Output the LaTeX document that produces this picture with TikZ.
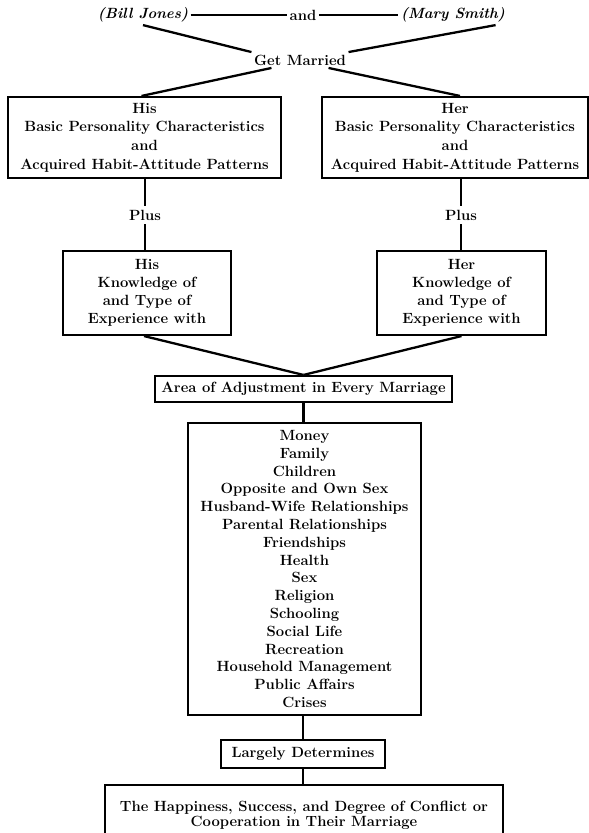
\documentclass[tikz,border=0pt]{standalone}
\usetikzlibrary{calc}
\begin{document}
\begin{tikzpicture}[x=1pt,y=-1pt,
  every node/.style={font=\fontsize{14.8}{17.8}\selectfont\bfseries, align=center, inner sep=0pt},
  box/.style={draw, line width=2.1pt},
  lbl/.style={inner sep=2.5pt},
  ln/.style={line width=2.3pt},
  ]
\useasboundingbox (0,0) rectangle (589,833);
\clip (0,0) rectangle (589,833);
\fill[white] (0,0) rectangle (589,833);

% top row
\node[lbl, font=\fontsize{14.8}{17.8}\selectfont\bfseries\itshape] (bill) at (143,15) {(Bill Jones)};
\node[lbl] (and) at (303,15) {and};
\node[lbl, font=\fontsize{14.8}{17.8}\selectfont\bfseries\itshape] (mary) at (453,15) {(Mary Smith)};
\node[lbl] (getm) at (300,60) {Get Married};

% personality boxes
\node[box, minimum width=273pt, minimum height=81pt, font=\fontsize{14.8}{18.6}\selectfont\bfseries] (hisbox) at (144.5,137.5)
  {His\\Basic Personality Characteristics\\and\\Acquired Habit-Attitude Patterns};
\node[box, minimum width=266pt, minimum height=81pt, font=\fontsize{14.8}{18.6}\selectfont\bfseries] (herbox) at (455,137.5)
  {Her\\Basic Personality Characteristics\\and\\Acquired Habit-Attitude Patterns};

% plus
\node[lbl, inner sep=4pt] (hisplus) at (145,215) {Plus};
\node[lbl, inner sep=4pt] (herplus) at (461,215) {Plus};

% knowledge boxes
\node[box, minimum width=168pt, minimum height=84pt] (hisknow) at (147,293)
  {His\\Knowledge of\\and Type of\\Experience with};
\node[box, minimum width=169pt, minimum height=84pt] (herknow) at (461.5,293)
  {Her\\Knowledge of\\and Type of\\Experience with};

% area
\node[box, minimum width=297pt, minimum height=26pt] (area) at (303.5,389)
  {Area of Adjustment in Every Marriage};

% items
\node[box, minimum width=233pt, minimum height=292pt] (items) at (304.5,569)
  {Money\\Family\\Children\\Opposite and Own Sex\\Husband-Wife Relationships\\Parental Relationships\\Friendships\\Health\\Sex\\Religion\\Schooling\\Social Life\\Recreation\\Household Management\\Public Affairs\\Crises};

% largely
\node[box, minimum width=164pt, minimum height=28pt] (largely) at (303,754) {Largely Determines};

% final
\node[box, minimum width=398pt, minimum height=56pt, text depth=0pt] (final) at (304,813)
  {\raisebox{8pt}{\begin{tabular}{@{}c@{}}The Happiness, Success, and Degree of Conflict or\\[-3pt] Cooperation in Their Marriage\end{tabular}}};

% connectors
\draw[ln] (bill.east) -- (and.west);
\draw[ln] (and.east) -- (mary.west);
\draw[ln] (bill.south) -- (getm.north west);
\draw[ln] ([xshift=-12pt]mary.south east) -- (getm.north east);
\draw[ln] ([xshift=20pt]getm.south west) -- ([xshift=-3pt]hisbox.north);
\draw[ln] ([xshift=-20pt]getm.south east) -- ([xshift=5pt]herbox.north);

\draw[ln] (hisbox.south -| hisplus) -- (hisplus.north);
\draw[ln] (hisplus.south) -- (hisknow.north -| hisplus);
\draw[ln] (herbox.south -| herplus) -- (herplus.north);
\draw[ln] (herplus.south) -- (herknow.north -| herplus);

\draw[ln] ([xshift=-3pt]hisknow.south) -- (area.north);
\draw[ln] (herknow.south) -- (area.north);
\draw[ln] (area.south) -- (items.north -| area.south);
\draw[ln] (items.south -| largely.north) -- (largely.north);
\draw[ln] (largely.south) -- (final.north -| largely.south);
\end{tikzpicture}
\end{document}
